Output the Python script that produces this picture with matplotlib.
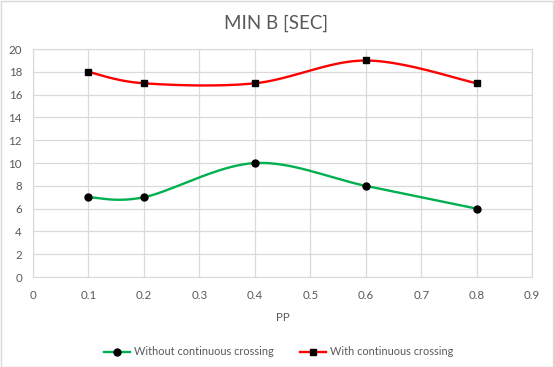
import numpy as np
import matplotlib
matplotlib.use("Agg")
import matplotlib.pyplot as plt

pp = [0.1, 0.2, 0.4, 0.6, 0.8]
without_crossing = [7, 7, 10, 8, 6]
with_crossing = [18, 17, 17, 19, 17]
x_ticks = [0, 0.1, 0.2, 0.3, 0.4, 0.5, 0.6, 0.7, 0.8, 0.9]
y_ticks = list(range(0, 21, 2))


def smooth(xs, ys, n=40):
    # Excel-like smoothed line: cubic Bezier with Catmull-Rom control points
    pts = np.column_stack([xs, ys]).astype(float)
    out = [pts[0]]
    t = np.linspace(0, 1, n)[1:, None]
    for i in range(len(pts) - 1):
        p0 = pts[i]
        p3 = pts[i + 1]
        prev = pts[i - 1] if i > 0 else p0
        nxt = pts[i + 2] if i + 2 < len(pts) else p3
        c1 = p0 + (p3 - prev) / 6
        c2 = p3 - (nxt - p0) / 6
        seg = ((1 - t) ** 3) * p0 + 3 * ((1 - t) ** 2) * t * c1 + 3 * (1 - t) * t ** 2 * c2 + t ** 3 * p3
        out.extend(seg)
    out = np.array(out)
    return out[:, 0], out[:, 1]


plt.rcParams['font.family'] = ['Lato', 'DejaVu Sans']
txt = '#595959'
grid = '#d9d9d9'

fig = plt.figure(figsize=(5.54, 3.67), dpi=100)
ax = fig.add_axes([0.0596, 0.2452, 0.901, 0.621])

sx, sy = smooth(pp, without_crossing)
ax.plot(sx, sy, color='#00b050', lw=1.7, solid_capstyle='round', zorder=3)
ax.plot(pp, without_crossing, 'o', color='black', ms=5, zorder=4)
sx, sy = smooth(pp, with_crossing)
ax.plot(sx, sy, color='#ff0000', lw=1.7, solid_capstyle='round', zorder=3)
ax.plot(pp, with_crossing, 's', color='black', ms=5, zorder=4)

# legend proxies
h1, = ax.plot([], [], color='#00b050', lw=1.7, marker='o', mfc='black', mec='black', ms=5)
h2, = ax.plot([], [], color='#ff0000', lw=1.7, marker='s', mfc='black', mec='black', ms=5)
fig.legend([h1, h2], ['Without continuous crossing', 'With continuous crossing'],
           loc='center', bbox_to_anchor=(0.503, 0.041), ncol=2, frameon=False,
           fontsize=7.9, labelcolor=txt, handlelength=2.4, handletextpad=0.37,
           columnspacing=2.4)

ax.set_xlim(0, 0.9)
ax.set_ylim(0, 20)
ax.set_xticks(x_ticks)
ax.set_xticklabels([f'{v:g}' for v in x_ticks])
ax.set_yticks(y_ticks)
ax.grid(True, color=grid, lw=0.9)
ax.set_axisbelow(True)
for s in ax.spines.values():
    s.set_color(grid)
ax.tick_params(length=0, labelsize=8.3, labelcolor=txt)
ax.tick_params(axis='x', pad=9)
ax.tick_params(axis='y', pad=8)
ax.set_xlabel('PP', fontsize=8.3, color=txt, labelpad=8)
fig.text(0.498, 0.937, 'MIN B [SEC]', ha='center', va='center', fontsize=13.5, color=txt)

fig.patches.append(plt.Rectangle((0.001, 0.001), 0.997, 0.996, transform=fig.transFigure,
                                 fill=False, edgecolor='#d9d9d9', lw=1))
fig.savefig('out.png', dpi=100)
